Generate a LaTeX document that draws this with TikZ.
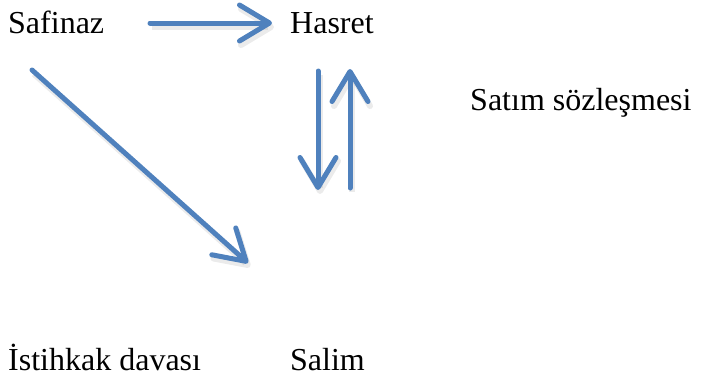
\documentclass[tikz,border=0pt]{standalone}
\usepackage{fontspec}
\setmainfont{Liberation Serif}
\usetikzlibrary{arrows.meta}
\definecolor{arrowblue}{HTML}{4F81BD}
\tikzset{
  lbl/.style={anchor=base west, inner sep=0pt, font=\fontsize{32}{38}\selectfont},
  arr/.style={draw=arrowblue, line width=5pt, line cap=round,
    -{Straight Barb[length=30pt, width=36pt, round]},
    preaction={draw=black!40, opacity=0.2, line width=6pt, transform canvas={shift={(2pt,-4pt)}}}},
}
\begin{document}
\begin{tikzpicture}[x=1pt,y=-1pt]
\useasboundingbox (0,0) rectangle (703,378);
\node[lbl] (saf) at (8,33) {Safinaz};
\node[lbl] (has) at (290,33) {Hasret};
\node[lbl] (sat) at (470,110) {Satım sözleşmesi};
\node[lbl] (ist) at (8,370) {İstihkak davası};
\node[lbl] (sal) at (290,370) {Salim};
\coordinate (h1) at (150,23);
\coordinate (h2) at (272,23);
\coordinate (d1) at (318,71);
\coordinate (d2) at (318,190);
\coordinate (u1) at (350,188);
\coordinate (u2) at (350,69);
\coordinate (g1) at (32,70);
\coordinate (g2) at (248,263);
\draw[arr] (h1) -- (h2);
\draw[arr] (d1) -- (d2);
\draw[arr] (u1) -- (u2);
\draw[arr] (g1) -- (g2);
\end{tikzpicture}
\end{document}
